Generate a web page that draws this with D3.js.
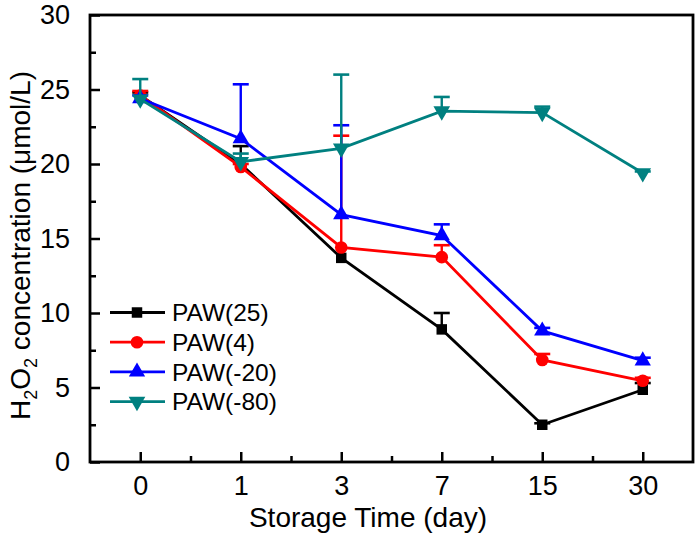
<!DOCTYPE html>
<html>
<head>
<meta charset="utf-8">
<script src="https://cdn.jsdelivr.net/npm/d3@7"></script>
<style>
  html, body { margin: 0; padding: 0; background: #fff; }
  svg { display: block; font-family: "Liberation Sans", Arial, sans-serif; }
</style>
</head>
<body>
<svg id="chart" width="700" height="541"></svg>
<script>
// ---- Data ----
const days = ["0", "1", "3", "7", "15", "30"];
const yTicks = [0, 5, 10, 15, 20, 25, 30];
const seriesNames = ["PAW(25)", "PAW(4)", "PAW(-20)", "PAW(-80)"];
const paw25 = [24.6, 20.0, 13.7, 8.9, 2.5, 4.85];
const err25 = [0.2, 1.2, 0.0, 1.1, 0.1, 0.45];
const paw4 = [24.6, 19.8, 14.4, 13.75, 6.85, 5.45];
const err4 = [0.3, 0.2, 7.5, 0.8, 0.4, 0.2];
const paw20 = [24.4, 21.7, 16.6, 15.2, 8.8, 6.8];
const err20 = [0.2, 3.65, 6.0, 0.75, 0.2, 0.2];
const paw80 = [24.35, 20.15, 21.05, 23.55, 23.45, 19.4];
const err80 = [1.35, 0.55, 4.95, 0.95, 0.4, 0.1];

const colors = ["#000000", "#ff0000", "#0000ff", "#008080"];
const values = [paw25, paw4, paw20, paw80];
const errors = [err25, err4, err20, err80];

const series = seriesNames.map((name, i) => ({
  name, color: colors[i],
  points: days.map((d, j) => ({ idx: j, v: values[i][j], e: errors[i][j] }))
}));

// ---- Layout ----
const svg = d3.select("#chart");
const pLeft = 90, pRight = 693, pTop = 15, pBottom = 462;

const x = d3.scaleLinear().domain([-0.5, days.length - 0.5]).range([pLeft, pRight]);
const y = d3.scaleLinear().domain([0, 30]).range([pBottom, pTop]);

const symbols = [
  d3.symbol().type(d3.symbolSquare).size(110),
  d3.symbol().type(d3.symbolCircle).size(125),
  d3.symbol().type(d3.symbolTriangle).size(115),
  d3.symbol().type(d3.symbolTriangle).size(120)
];
const rotations = [0, 0, 0, 180];

// ---- Axes ----
const xAxis = d3.axisBottom(x)
  .tickValues(d3.range(days.length))
  .tickFormat(i => days[i])
  .tickSize(-10).tickPadding(16);
const gx = svg.append("g").attr("transform", `translate(0,${pBottom})`).call(xAxis);
gx.select(".domain").remove();
gx.selectAll(".tick line").attr("stroke", "#000").attr("stroke-width", 2.5);
gx.selectAll(".tick text").attr("font-size", 27).attr("fill", "#000").attr("dy", "0.62em");

const xMinor = d3.axisBottom(x)
  .tickValues(d3.range(days.length - 1).map(i => i + 0.5))
  .tickFormat("").tickSize(-6);
const gxm = svg.append("g").attr("transform", `translate(0,${pBottom})`).call(xMinor);
gxm.select(".domain").remove();
gxm.selectAll(".tick line").attr("stroke", "#000").attr("stroke-width", 2.5);

const yAxis = d3.axisLeft(y).tickValues(yTicks).tickSize(-10).tickPadding(20);
const gy = svg.append("g").attr("transform", `translate(${pLeft},0)`).call(yAxis);
gy.select(".domain").remove();
gy.selectAll(".tick line").attr("stroke", "#000").attr("stroke-width", 2.5);
gy.selectAll(".tick text").attr("font-size", 27).attr("fill", "#000");

const yMinor = d3.axisLeft(y).tickValues(yTicks.slice(0, -1).map(v => v + 2.5)).tickFormat("").tickSize(-6);
const gym = svg.append("g").attr("transform", `translate(${pLeft},0)`).call(yMinor);
gym.select(".domain").remove();
gym.selectAll(".tick line").attr("stroke", "#000").attr("stroke-width", 2.5);

// Frame
svg.append("rect")
  .attr("x", pLeft).attr("y", pTop)
  .attr("width", pRight - pLeft).attr("height", pBottom - pTop)
  .attr("fill", "none").attr("stroke", "#000").attr("stroke-width", 2.8);

// ---- Axis titles ----
svg.append("text")
  .attr("x", 368).attr("y", 527)
  .attr("text-anchor", "middle").attr("font-size", 28).attr("fill", "#000")
  .text("Storage Time (day)");

const yt = svg.append("text")
  .attr("transform", `translate(30,${(pTop + pBottom) / 2 + 7}) rotate(-90)`)
  .attr("text-anchor", "middle").attr("font-size", 28).attr("fill", "#000");
yt.append("tspan").text("H");
yt.append("tspan").attr("font-size", 18).attr("dy", 7).text("2");
yt.append("tspan").attr("dy", -7).text("O");
yt.append("tspan").attr("font-size", 18).attr("dy", 7).text("2");
yt.append("tspan").attr("dy", -7).text(" concentration (\u03bcmol/L)");

// ---- Series ----
const line = d3.line().x(d => x(d.idx)).y(d => y(d.v));

series.forEach((s, i) => {
  const g = svg.append("g");
  const eb = g.selectAll(".eb").data(s.points.filter(p => p.e > 0)).join("g");
  eb.append("line")
    .attr("x1", p => x(p.idx)).attr("x2", p => x(p.idx))
    .attr("y1", p => y(p.v)).attr("y2", p => y(p.v + p.e))
    .attr("stroke", s.color).attr("stroke-width", 2.4);
  eb.append("line")
    .attr("x1", p => x(p.idx) - 8).attr("x2", p => x(p.idx) + 8)
    .attr("y1", p => y(p.v + p.e)).attr("y2", p => y(p.v + p.e))
    .attr("stroke", s.color).attr("stroke-width", 2.6);
  g.append("path").datum(s.points).attr("d", line)
    .attr("fill", "none").attr("stroke", s.color).attr("stroke-width", 2.8);
  g.selectAll(".m").data(s.points).join("path")
    .attr("d", symbols[i])
    .attr("transform", p => `translate(${x(p.idx)},${y(p.v)}) rotate(${rotations[i]})`)
    .attr("fill", s.color);
});

// ---- Legend ----
const legY0 = 312.5, legDy = 29.7;
const leg = svg.append("g");
series.forEach((s, i) => {
  const yy = legY0 + i * legDy;
  leg.append("line").attr("x1", 110).attr("x2", 165).attr("y1", yy).attr("y2", yy)
    .attr("stroke", s.color).attr("stroke-width", 2.8);
  leg.append("path").attr("d", symbols[i])
    .attr("transform", `translate(137,${yy}) rotate(${rotations[i]})`)
    .attr("fill", s.color);
  leg.append("text").attr("x", 172).attr("y", yy).attr("dy", "0.36em")
    .attr("font-size", 24.5).attr("fill", "#000").text(s.name);
});
</script>
</body>
</html>
